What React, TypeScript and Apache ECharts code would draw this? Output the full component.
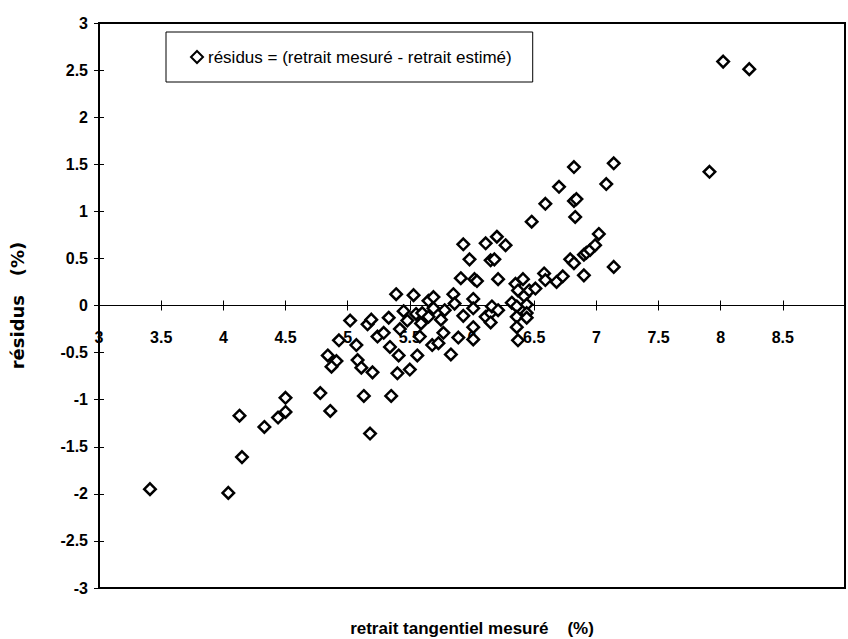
import React, { useEffect, useRef } from 'react';
import * as echarts from 'echarts';

// retrait tangentiel mesuré (%)
const xMeasured = [
  3.41, 4.04, 4.13, 4.15, 4.33, 4.44, 4.5, 4.5, 4.78, 4.86,
  4.84, 4.91, 4.87, 4.93, 5.02, 5.07, 5.08, 5.11, 5.2, 5.13,
  5.18, 5.16, 5.19, 5.24, 5.29, 5.33, 5.34, 5.35, 5.39, 5.41,
  5.4, 5.42, 5.45, 5.48, 5.53, 5.5, 5.55, 5.56, 5.59, 5.58,
  5.6, 5.65, 5.65, 5.69, 5.69, 5.68, 5.73, 5.75, 5.77, 5.78,
  5.83, 5.85, 5.86, 5.89, 5.91, 5.93, 5.93, 5.98, 6.01, 6.01,
  6.01, 6.01, 6.02, 6.04, 6.11, 6.11, 6.15, 6.15, 6.15, 6.18,
  6.16, 6.21, 6.2, 6.21, 6.27, 6.32, 6.35, 6.36, 6.36, 6.36,
  6.37, 6.37, 6.41, 6.42, 6.44, 6.44, 6.44, 6.46, 6.51, 6.48,
  6.58, 6.59, 6.59, 6.68, 6.73, 6.7, 6.79, 6.82, 6.82, 6.82,
  6.84, 6.83, 6.9, 6.9, 6.92, 6.95, 6.99, 7.02, 7.08, 7.14,
  7.14, 7.91, 8.02, 8.23,
];
// résidus (%)
const residuals = [
  -1.95, -1.99, -1.17, -1.61, -1.29, -1.19, -1.13, -0.98, -0.93, -1.12,
  -0.53, -0.59, -0.65, -0.37, -0.16, -0.42, -0.58, -0.66, -0.71, -0.96,
  -1.36, -0.2, -0.15, -0.33, -0.29, -0.13, -0.44, -0.96, 0.12, -0.53,
  -0.72, -0.25, -0.06, -0.16, 0.11, -0.68, -0.09, -0.53, -0.19, -0.33,
  -0.08, -0.12, 0.05, 0.09, -0.03, -0.42, -0.4, -0.15, -0.29, -0.05,
  -0.52, 0.12, 0.02, -0.34, 0.29, 0.65, -0.11, 0.49, 0.07, -0.03,
  -0.23, -0.36, 0.28, 0.26, 0.66, -0.12, -0.08, -0.18, 0.48, 0.49,
  -0.01, -0.05, 0.73, 0.28, 0.64, 0.03, 0.23, -0.01, -0.12, -0.23,
  -0.37, 0.16, 0.28, 0.1, 0.01, -0.08, -0.13, 0.16, 0.18, 0.89,
  0.34, 0.27, 1.08, 0.25, 0.31, 1.26, 0.49, 0.45, 1.47, 1.11,
  1.13, 0.94, 0.32, 0.54, 0.56, 0.59, 0.64, 0.76, 1.29, 1.51,
  0.41, 1.42, 2.59, 2.51,
];

const xTickLabels = ['3', '3.5', '4', '4.5', '5', '5.5', '6', '6.5', '7', '7.5', '8', '8.5'];
const yTickLabels = ['-3', '-2.5', '-2', '-1.5', '-1', '-0.5', '0', '0.5', '1', '1.5', '2', '2.5', '3'];

const seriesName = 'résidus = (retrait mesuré - retrait estimé)';
const xTitle = 'retrait tangentiel mesuré    (%)';
const yTitle = 'résidus   (%)';

function hasFont(name: string): boolean {
  const c = document.createElement('canvas').getContext('2d');
  if (!c) return false;
  const s = 'résidus = (retrait mesuré) 0123456789 mmmwwwiii';
  c.font = '20px monospace';
  const a = c.measureText(s).width;
  c.font = `20px '${name}', monospace`;
  const b = c.measureText(s).width;
  return Math.abs(a - b) > 0.5;
}

const GRID_H = 565;

export default function App() {
  const ref = useRef<HTMLDivElement>(null);

  useEffect(() => {
    if (!ref.current) return;
    const chart = echarts.init(ref.current, undefined, { renderer: 'svg' });
    const narrowOK = hasFont('Liberation Sans Narrow');
    const narrow = narrowOK ? "'Liberation Sans Narrow', 'Liberation Sans', Arial, sans-serif" : "'Liberation Sans', Arial, sans-serif";
    const xLabelSize = narrowOK ? 19 : 16;
    const legendSize = narrowOK ? 21 : 17;
    const xTitleSize = narrowOK ? 21 : 17;

    const tickVal = (i: number, arr: string[]) => arr[i];
    const data = xMeasured.map((x, i) => [x, residuals[i]]);
    // x axis crosses at y = 0, which is the vertical middle of the [-3, 3] range
    const zeroOffset = -GRID_H / 2;

    chart.setOption({
      animation: false,
      backgroundColor: '#ffffff',
      grid: {
        left: 86,
        top: 23,
        width: 770,
        height: GRID_H,
        show: true,
        borderColor: '#000',
        borderWidth: 2,
        backgroundColor: 'transparent',
      },
      legend: {
        data: [seriesName],
        left: 166,
        top: 32,
        padding: [14, 21, 14, 24],
        itemWidth: 12,
        itemHeight: 12,
        itemGap: 0,
        itemStyle: { color: '#fff', borderColor: '#000', borderWidth: 2 },
        icon: 'diamond',
        borderColor: '#000',
        borderWidth: 1,
        backgroundColor: '#fff',
        textStyle: { fontFamily: narrow, fontSize: legendSize, color: '#000', lineHeight: 22 },
      },
      xAxis: [
        {
          type: 'value',
          min: 3,
          max: 9,
          interval: 0.5,
          position: 'bottom',
          offset: zeroOffset,
          axisLine: { show: true, onZero: false, lineStyle: { color: '#000', width: 1.2 } },
          axisTick: { show: true, length: 5, lineStyle: { color: '#000', width: 1 } },
          axisLabel: {
            margin: 24,
            color: '#000',
            fontFamily: narrow,
            fontWeight: 'bold',
            fontSize: xLabelSize,
            formatter: (v: number) => {
              const i = Math.round((v - 3) / 0.5);
              return i >= 0 && i < xTickLabels.length ? tickVal(i, xTickLabels) : '';
            },
          },
          splitLine: { show: false },
        },
        {
          type: 'value',
          min: 3,
          max: 9,
          interval: 0.5,
          position: 'bottom',
          offset: zeroOffset,
          axisLine: { show: false, onZero: false },
          axisTick: { show: true, inside: true, length: 5, lineStyle: { color: '#000', width: 1 } },
          axisLabel: { show: false },
          splitLine: { show: false },
        },
      ],
      yAxis: [
        {
          type: 'value',
          min: -3,
          max: 3,
          interval: 0.5,
          position: 'left',
          axisLine: { show: true, onZero: false, lineStyle: { color: '#000', width: 2 } },
          axisTick: { show: true, length: 5, lineStyle: { color: '#000', width: 1 } },
          axisLabel: {
            margin: 11,
            color: '#000',
            fontFamily: "'Liberation Sans', Arial, sans-serif",
            fontWeight: 'bold',
            fontSize: 16,
            formatter: (v: number) => {
              const i = Math.round((v + 3) / 0.5);
              return i >= 0 && i < yTickLabels.length ? tickVal(i, yTickLabels) : '';
            },
          },
          splitLine: { show: false },
          name: yTitle,
          nameLocation: 'middle',
          nameGap: 73,
          nameTextStyle: { fontFamily: "'DejaVu Sans', sans-serif", fontWeight: 'bold', fontSize: 18, color: '#000' },
        },
        {
          type: 'value',
          min: -3,
          max: 3,
          interval: 0.5,
          position: 'left',
          axisLine: { show: false, onZero: false },
          axisTick: { show: true, inside: true, length: 5, lineStyle: { color: '#000', width: 1 } },
          axisLabel: { show: false },
          splitLine: { show: false },
        },
      ],
      graphic: [
        {
          type: 'text',
          x: 472,
          y: 628,
          style: {
            text: xTitle,
            fill: '#000',
            font: `bold ${xTitleSize}px ${narrow}`,
            align: 'center',
            verticalAlign: 'middle',
          },
        },
      ],
      series: [
        {
          name: seriesName,
          type: 'scatter',
          xAxisIndex: 0,
          yAxisIndex: 0,
          symbol: 'diamond',
          symbolSize: 11.5,
          itemStyle: { color: '#fff', borderColor: '#000', borderWidth: 2.5, opacity: 1 },
          data,
          z: 5,
        },
      ],
    });
    return () => chart.dispose();
  }, []);

  return (
    <div
      ref={ref}
      style={{ position: 'fixed', left: 0, top: 0, width: 848, height: 639, background: '#fff' }}
    />
  );
}
